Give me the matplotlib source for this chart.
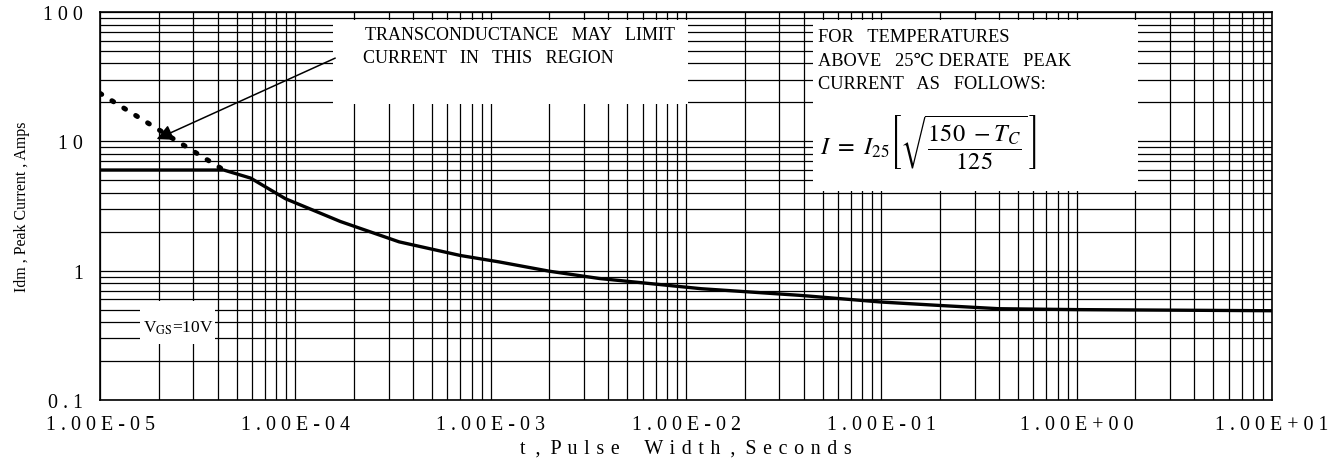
import matplotlib
matplotlib.use("Agg")
import matplotlib.pyplot as plt
from matplotlib.patches import Rectangle
from matplotlib.ticker import FixedLocator, LogLocator, NullFormatter

plt.rcParams['font.family'] = ['Liberation Serif', 'DejaVu Serif', 'Noto Sans CJK SC']
plt.rcParams['mathtext.fontset'] = 'stix'

# data
pulse_t = [1e-5, 4.3e-5, 5.9e-5, 8.9e-5, 1.7e-4, 3.4e-4, 7.0e-4, 1.1e-3, 2.0e-3,
           3.6e-3, 1.2e-2, 3.8e-2, 1.0e-1, 2.0e-1, 4.0e-1, 1.0e0, 10.0]
peak_i = [6.0, 6.0, 5.2, 3.6, 2.4, 1.67, 1.31, 1.17, 0.99,
          0.87, 0.725, 0.645, 0.572, 0.538, 0.508, 0.50, 0.49]
# dotted transconductance limit
limit_t = [1e-5, 4.3e-5]
limit_i = [23.5, 6.0]

xticks = [1e-5, 1e-4, 1e-3, 1e-2, 1e-1, 1e0, 1e1]
xtick_labels = ['1.00E-05', '1.00E-04', '1.00E-03', '1.00E-02', '1.00E-01', '1.00E+00', '1.00E+01']
yticks = [0.1, 1, 10, 100]
ytick_labels = ['0.1', '1', '10', '100']

def spaced(s, sep=' '):
    return sep.join(s)

fig = plt.figure(figsize=(13.35, 4.64), dpi=100)
ax = fig.add_axes([100/1335, 63/464, 1172/1335, 388/464])
ax.set_xscale('log')
ax.set_yscale('log')
ax.set_xlim(1e-5, 10)
ax.set_ylim(0.1, 100)

ax.xaxis.set_major_locator(FixedLocator(xticks))
ax.yaxis.set_major_locator(FixedLocator(yticks))
ax.xaxis.set_minor_locator(LogLocator(base=10, subs=range(2, 10), numticks=20))
ax.yaxis.set_minor_locator(LogLocator(base=10, subs=range(2, 10), numticks=20))
ax.xaxis.set_minor_formatter(NullFormatter())
ax.yaxis.set_minor_formatter(NullFormatter())
ax.set_xticklabels([spaced(s) for s in xtick_labels], fontsize=14.4)
ax.set_yticklabels([spaced(s) for s in ytick_labels], fontsize=14.4)
ax.tick_params(which='both', length=0)
ax.tick_params(axis='x', pad=11)
ax.tick_params(axis='y', pad=12)

ax.grid(True, which='both', color='black', lw=0.9)
for sp in ax.spines.values():
    sp.set_linewidth(1.2)

sep = ' \u200a'
xlab = ('t  ,  ' + spaced('Pulse', sep) + '     ' + spaced('Width', sep)
        + '  ,  ' + spaced('Seconds', sep))
ax.set_xlabel(xlab, fontsize=14.4, labelpad=3)
ax.set_ylabel('Idm , Peak Current , Amps', fontsize=11.5)
ax.yaxis.set_label_coords(-0.0600, 0.5)

# white annotation boxes covering the grid
for (x0, y0, w, h) in [(0.199, 0.763, 0.303, 0.216),
                       (0.608, 0.539, 0.278, 0.440),
                       (0.034, 0.144, 0.064, 0.111)]:
    ax.add_patch(Rectangle((x0, y0), w, h, transform=ax.transAxes,
                           facecolor='white', edgecolor='none', zorder=2))

ax.plot(pulse_t, peak_i, color='black', lw=2.4, zorder=4, solid_joinstyle='round')
ax.plot(limit_t, limit_i, color='black', lw=3.6, linestyle=(0, (0.4, 2.4)),
        dash_capstyle='round', zorder=4)

ax.annotate('', xy=(1.95e-5, 10.4), xytext=(1.6e-4, 44),
            arrowprops=dict(arrowstyle='-|>', color='black', lw=1.1, mutation_scale=24,
                            shrinkA=0, shrinkB=0), zorder=5)

ax.text(0.226, 0.9415, 'TRANSCONDUCTANCE   MAY   LIMIT', transform=ax.transAxes,
        fontsize=13, va='center', ha='left', zorder=5)
ax.text(0.2244, 0.884, 'CURRENT   IN   THIS   REGION', transform=ax.transAxes,
        fontsize=13, va='center', ha='left', zorder=5)

ax.text(0.6126, 0.9356, 'FOR   TEMPERATURES', transform=ax.transAxes,
        fontsize=13.2, va='center', ha='left', zorder=5)
ax.text(0.6126, 0.876, 'ABOVE   25\u2103 DERATE   PEAK', transform=ax.transAxes,
        fontsize=13.2, va='center', ha='left', zorder=5)
ax.text(0.6126, 0.817, 'CURRENT   AS   FOLLOWS:', transform=ax.transAxes,
        fontsize=13.2, va='center', ha='left', zorder=5)
ax.text(0.614, 0.665, r'$I\ =\ I_{25}\left[\sqrt{\dfrac{150\ -T_C}{125}}\,\right]$',
        transform=ax.transAxes, fontsize=17.5, va='center', ha='left', zorder=5)

ax.text(0.0666, 0.188, r'V$_{\mathrm{GS}}$=10V', transform=ax.transAxes,
        fontsize=12.5, va='center', ha='center', zorder=5)

fig.savefig('out.png', dpi=100)
